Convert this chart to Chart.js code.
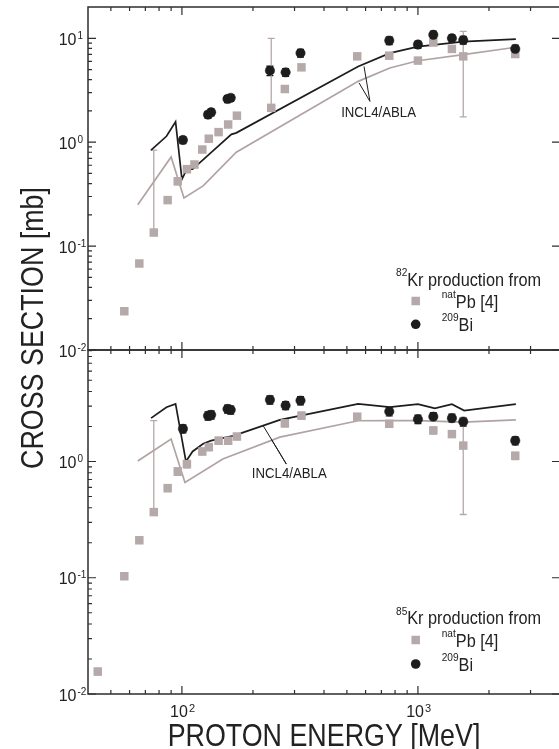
<!DOCTYPE html>
<html>
<head>
<meta charset="utf-8">
<script src="https://cdn.jsdelivr.net/npm/chart.js@4"></script>
<style>
  html, body { margin: 0; padding: 0; background: #fff; overflow: hidden; }
  #wrap { position: relative; width: 559px; height: 749px; overflow: hidden; }
  canvas { position: absolute; left: 0; top: 0; }
</style>
</head>
<body>
<div id="wrap">
  <canvas id="topChart" width="559" height="749"></canvas>
  <canvas id="bottomChart" width="559" height="749"></canvas>
</div>
<script>
// ---- 82Kr panel (top) ----
const pb82Energy = [57, 66, 76, 87, 96, 105, 113, 122, 130, 143, 157, 171, 239, 273, 321, 553, 756, 1000, 1162, 1393, 1556, 2584];
const pb82Value  = [0.0236, 0.068, 0.135, 0.277, 0.42, 0.55, 0.61, 0.85, 1.08, 1.25, 1.48, 1.80, 2.14, 3.25, 5.25, 6.7, 6.8, 6.1, 9.1, 7.9, 6.7, 7.05];
const pb82Error  = [0.0012, 0.004, 0.705, 0.016, 0.03, 0.04, 0.04, 0.05, 0.06, 0.07, 0.08, 0.09, 7.86, 0.2, 0.3, 0.35, 0.4, 0.35, 0.5, 0.45, 4.95, 0.4];

const biEnergy   = [101, 129, 133, 156, 161, 236, 275, 318, 756, 1000, 1162, 1393, 1556, 2584];
const bi82Value  = [1.05, 1.84, 1.94, 2.61, 2.67, 4.88, 4.7, 7.2, 9.5, 8.7, 10.8, 10.0, 9.6, 7.9];
const bi82Error  = [0.08, 0.14, 0.15, 0.2, 0.2, 0.5, 0.4, 0.6, 0.8, 0.7, 0.9, 0.8, 0.8, 0.7];

const inclBi82Energy = [74, 86, 94, 100, 105, 111, 135, 162, 170, 558, 760, 1000, 1556, 2600];
const inclBi82Value  = [0.84, 1.14, 1.57, 0.44, 0.55, 0.55, 0.82, 1.19, 1.23, 5.36, 7.2, 8.3, 9.3, 9.8];
const inclPb82Energy = [65, 90, 102, 123, 170, 558, 760, 1000, 1556, 2600];
const inclPb82Value  = [0.25, 0.72, 0.29, 0.38, 0.80, 3.85, 5.17, 6.08, 6.95, 8.2];

// ---- 85Kr panel (bottom) ----
const pb85Energy = [44, 57, 66, 76, 87, 96, 105, 122, 130, 143, 157, 171, 273, 321, 553, 756, 1162, 1393, 1556, 2584];
const pb85Value  = [0.0156, 0.103, 0.21, 0.367, 0.59, 0.82, 0.95, 1.22, 1.33, 1.51, 1.51, 1.64, 2.13, 2.48, 2.43, 2.11, 1.85, 1.72, 1.37, 1.12];
const pb85Error  = [0.001, 0.006, 0.012, 1.88, 0.04, 0.06, 0.07, 0.08, 0.09, 0.1, 0.1, 0.1, 0.14, 0.16, 0.15, 0.13, 0.12, 0.11, 1.02, 0.08];

const bi85Value  = [1.91, 2.47, 2.52, 2.83, 2.78, 3.39, 3.03, 3.34, 2.69, 2.31, 2.43, 2.36, 2.2, 1.51];
const bi85Error  = [0.15, 0.2, 0.2, 0.22, 0.22, 0.27, 0.24, 0.27, 0.22, 0.19, 0.2, 0.19, 0.18, 0.12];

const inclBi85Energy = [74, 86, 94, 104, 111, 123, 133, 165, 260, 558, 760, 1000, 1180, 1393, 1570, 2600];
const inclBi85Value  = [2.36, 2.93, 3.13, 1.0, 1.22, 1.42, 1.51, 1.66, 2.28, 3.13, 2.93, 3.11, 2.87, 3.11, 2.74, 3.11];
const inclPb85Energy = [65, 90, 103, 149, 260, 558, 760, 1000, 1556, 2600];
const inclPb85Value  = [1.01, 1.56, 0.66, 1.05, 1.62, 2.24, 2.25, 2.25, 2.18, 2.28];

// ---- axes ----
const xMajorTicks = [100, 1000];
const xMajorExp   = ['2', '3'];
const xMinorTicks = [50, 60, 70, 80, 90, 200, 300, 400, 500, 600, 700, 800, 900, 2000, 3000];
const topYTicks    = [10, 1, 0.1, 0.01];
const topYExp      = ['1', '0', '-1', '-2'];
const bottomYTicks = [1, 0.1, 0.01];
const bottomYExp   = ['0', '-1', '-2'];

const GRAY = '#b5a9a9';
const GRAY_LINE = '#b2a3a3';
const BLACK = '#1d1d1d';
const AXIS = '#2e2e2e';
const FONT = '"Liberation Sans", Arial, Helvetica, sans-serif';
const SQUEEZE = 0.88;

const pts = (xs, ys) => xs.map((x, i) => ({ x: x, y: ys[i] }));

function minorY(min, max) {
  const out = [];
  for (let d = min; d < max; d *= 10) {
    for (let m = 2; m <= 9; m++) {
      const v = +(d * m).toPrecision(3);
      if (v < max) out.push(v);
    }
  }
  return out;
}

function richText(ctx, x, baseline, parts, size, supSize, raise) {
  ctx.save();
  ctx.translate(x, baseline);
  ctx.scale(SQUEEZE, 1);
  ctx.textAlign = 'left';
  ctx.textBaseline = 'alphabetic';
  let cx = 0;
  parts.forEach(p => {
    ctx.font = (p.sup ? supSize : size) + 'px ' + FONT;
    ctx.fillText(p.t, cx, p.sup ? -raise : 0);
    cx += ctx.measureText(p.t).width;
  });
  ctx.restore();
}

function decorPlugin(panel) {
  return {
    id: 'decor',
    beforeDatasetsDraw(chart) {
      const { ctx, scales: { x, y } } = chart;
      chart.data.datasets.forEach(ds => {
        if (!ds.errorBars) return;
        ctx.save();
        ctx.strokeStyle = ds.errorColor;
        ctx.lineWidth = 1.3;
        ctx.beginPath();
        ds.data.forEach((p, i) => {
          const e = ds.errorBars[i];
          const px = x.getPixelForValue(p.x);
          const top = y.getPixelForValue(p.y + e);
          const hasLow = p.y - e > 0;
          const low = y.getPixelForValue(hasLow ? p.y - e : p.y);
          ctx.moveTo(px, top); ctx.lineTo(px, low);
          ctx.moveTo(px - 3.5, top); ctx.lineTo(px + 3.5, top);
          if (hasLow) { ctx.moveTo(px - 3.5, low); ctx.lineTo(px + 3.5, low); }
        });
        ctx.stroke();
        ctx.restore();
      });
    },
    afterDraw(chart) {
      const { ctx, chartArea: a, scales: { x, y } } = chart;
      ctx.save();
      // frame (right edge lies just outside the picture)
      ctx.strokeStyle = AXIS;
      ctx.lineWidth = 1.5;
      ctx.beginPath();
      ctx.moveTo(a.right, a.top); ctx.lineTo(a.left, a.top);
      ctx.lineTo(a.left, a.bottom); ctx.lineTo(a.right, a.bottom);
      ctx.stroke();
      // ticks
      ctx.lineWidth = 1.2;
      ctx.beginPath();
      xMajorTicks.forEach(v => {
        const px = x.getPixelForValue(v);
        ctx.moveTo(px, a.top); ctx.lineTo(px, a.top + 8);
        ctx.moveTo(px, a.bottom); ctx.lineTo(px, a.bottom - 8);
      });
      xMinorTicks.forEach(v => {
        const px = x.getPixelForValue(v);
        ctx.moveTo(px, a.top); ctx.lineTo(px, a.top + 4);
        ctx.moveTo(px, a.bottom); ctx.lineTo(px, a.bottom - 4);
      });
      panel.yTicks.forEach(v => {
        const py = y.getPixelForValue(v);
        ctx.moveTo(a.left, py); ctx.lineTo(a.left + 8, py);
        ctx.moveTo(a.right, py); ctx.lineTo(a.right - 7, py);
      });
      minorY(0.01, panel.yMax).forEach(v => {
        const py = y.getPixelForValue(v);
        ctx.moveTo(a.left, py); ctx.lineTo(a.left + 4, py);
      });
      ctx.stroke();

      // y tick labels
      ctx.fillStyle = '#222';
      panel.yTicks.forEach((v, i) => {
        const py = y.getPixelForValue(v);
        ctx.font = '16px ' + FONT;
        ctx.textAlign = 'right';
        ctx.textBaseline = 'alphabetic';
        ctx.fillText('10', a.left - 11.5, py + 6.5);
        ctx.font = '10px ' + FONT;
        ctx.textAlign = 'left';
        ctx.fillText(panel.yExp[i], a.left - 10.5, py + 0.5);
      });

      // INCL4/ABLA annotation
      const an = panel.note;
      const ax = x.getPixelForValue(an.apex[0]), ay = y.getPixelForValue(an.apex[1]);
      ctx.strokeStyle = BLACK;
      ctx.lineWidth = 1;
      ctx.beginPath();
      an.arms.forEach(arm => {
        ctx.moveTo(ax, ay);
        ctx.lineTo(x.getPixelForValue(arm[0]), y.getPixelForValue(arm[1]));
      });
      ctx.stroke();
      ctx.save();
      ctx.translate(x.getPixelForValue(an.text[0]), y.getPixelForValue(an.text[1]));
      ctx.scale(SQUEEZE, 1);
      ctx.font = '15px ' + FONT;
      ctx.textAlign = 'center';
      ctx.textBaseline = 'middle';
      ctx.fillStyle = '#222';
      ctx.fillText('INCL4/ABLA', 0, 0);
      ctx.restore();

      // legend
      const lg = panel.legend;
      ctx.fillStyle = '#222';
      richText(ctx, lg.x, lg.titleY, [{ t: panel.isotope, sup: true }, { t: 'Kr production from' }], 18.5, 11.5, 9.5);
      ctx.fillStyle = GRAY;
      ctx.fillRect(lg.markerX - 4.25, lg.pbY - 4.25, 8.5, 8.5);
      ctx.fillStyle = BLACK;
      ctx.beginPath();
      ctx.arc(lg.markerX, lg.biY, 4.8, 0, Math.PI * 2);
      ctx.fill();
      ctx.fillStyle = '#222';
      richText(ctx, lg.textX, lg.pbY + 6.5, [{ t: 'nat', sup: true }, { t: 'Pb [4]' }], 18.5, 11.5, 9.5);
      richText(ctx, lg.textX, lg.biY + 6.5, [{ t: '209', sup: true }, { t: 'Bi' }], 18.5, 11.5, 9.5);

      if (panel.bottom) {
        // x tick labels
        xMajorTicks.forEach((v, i) => {
          const px = x.getPixelForValue(v);
          ctx.font = '16px ' + FONT;
          ctx.textAlign = 'right';
          ctx.textBaseline = 'alphabetic';
          ctx.fillText('10', px + 6, a.bottom + 22.5);
          ctx.font = '11px ' + FONT;
          ctx.textAlign = 'left';
          ctx.fillText(xMajorExp[i], px + 7, a.bottom + 17.5);
        });
        // axis titles
        ctx.save();
        ctx.translate(324, 746);
        ctx.scale(SQUEEZE, 1);
        ctx.font = '30.5px ' + FONT;
        ctx.textAlign = 'center';
        ctx.textBaseline = 'alphabetic';
        ctx.fillText('PROTON ENERGY [MeV]', 0, 0);
        ctx.restore();
        ctx.save();
        ctx.translate(43, 328);
        ctx.rotate(-Math.PI / 2);
        ctx.scale(SQUEEZE, 1);
        ctx.font = '30.5px ' + FONT;
        ctx.textAlign = 'center';
        ctx.textBaseline = 'alphabetic';
        ctx.fillText('CROSS SECTION [mb]', 0, 0);
        ctx.restore();
      }
      ctx.restore();
    }
  };
}

function makeDatasets(pbE, pbV, pbErr, biV, biErr, bE, bV, gE, gV) {
  return [
    {
      label: '209Bi', data: pts(biEnergy, biV), errorBars: biErr, errorColor: BLACK,
      pointStyle: 'circle', pointRadius: 4.7, backgroundColor: BLACK, borderColor: BLACK, borderWidth: 0.5, showLine: false
    },
    {
      label: 'natPb [4]', data: pts(pbE, pbV), errorBars: pbErr, errorColor: GRAY,
      pointStyle: 'rect', pointRadius: 6, backgroundColor: GRAY, borderColor: GRAY, borderWidth: 0, showLine: false
    },
    {
      label: 'INCL4/ABLA Bi', data: pts(bE, bV), showLine: true, pointRadius: 0,
      borderColor: BLACK, borderWidth: 1.7, tension: 0, fill: false
    },
    {
      label: 'INCL4/ABLA Pb', data: pts(gE, gV), showLine: true, pointRadius: 0,
      borderColor: GRAY_LINE, borderWidth: 1.7, tension: 0, fill: false
    }
  ];
}

function makeChart(id, datasets, padding, yMax, panel) {
  return new Chart(document.getElementById(id), {
    type: 'scatter',
    data: { datasets: datasets },
    options: {
      responsive: false,
      animation: false,
      events: [],
      layout: { padding: padding, autoPadding: false },
      scales: {
        x: { type: 'logarithmic', min: 40, max: 3960, display: false },
        y: { type: 'logarithmic', min: 0.01, max: yMax, display: false }
      },
      plugins: { legend: { display: false }, tooltip: { enabled: false } }
    },
    plugins: [decorPlugin(panel)]
  });
}

makeChart('topChart',
  makeDatasets(pb82Energy, pb82Value, pb82Error, bi82Value, bi82Error, inclBi82Energy, inclBi82Value, inclPb82Energy, inclPb82Value),
  { left: 88, top: 7, right: 0, bottom: 399 }, 20,
  {
    yTicks: topYTicks, yExp: topYExp, yMax: 20, isotope: '82', bottom: false,
    note: { text: [681, 1.92], apex: [626, 2.47], arms: [[591, 5.36], [563, 3.72]] },
    legend: { x: 396, titleY: 285.5, markerX: 415.7, textX: 441.7, pbY: 301, biY: 324.3 }
  });

makeChart('bottomChart',
  makeDatasets(pb85Energy, pb85Value, pb85Error, bi85Value, bi85Error, inclBi85Energy, inclBi85Value, inclPb85Energy, inclPb85Value),
  { left: 88, top: 350, right: 0, bottom: 55 }, 9.1,
  {
    yTicks: bottomYTicks, yExp: bottomYExp, yMax: 9.1, isotope: '85', bottom: true,
    note: { text: [285, 0.78], apex: [277, 0.95], arms: [[221, 2.03], [239, 1.56]] },
    legend: { x: 396, titleY: 624.3, markerX: 415.7, textX: 441.7, pbY: 640, biY: 664 }
  });
</script>
</body>
</html>
